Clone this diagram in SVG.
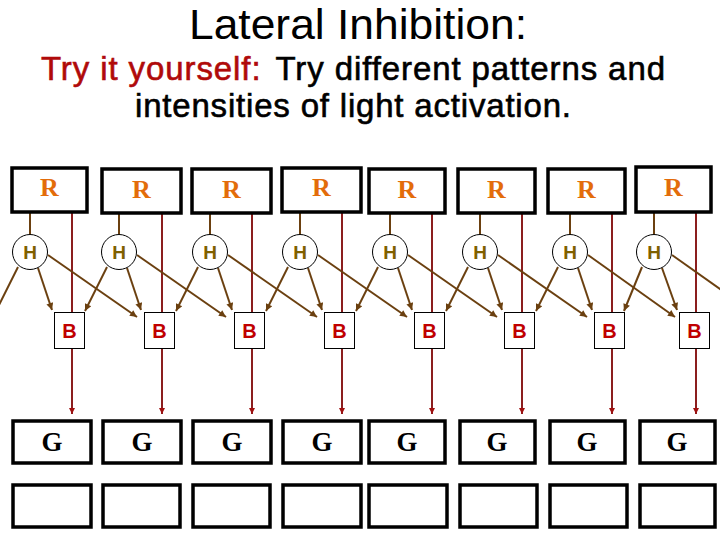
<svg xmlns="http://www.w3.org/2000/svg" width="720" height="540" viewBox="0 0 720 540">
<style>
.title{font-family:"Liberation Sans",Arial,sans-serif;font-size:42px;fill:#000;text-anchor:middle}
.sub{font-family:"Liberation Sans",Arial,sans-serif;font-size:33px;fill:#000;stroke:#000;stroke-width:0.6;text-anchor:middle}
.red{fill:#B00A0A;stroke:#B00A0A}
.rbox{fill:#fff;stroke:#000;stroke-width:3.5}
.gbox{fill:#fff;stroke:#000;stroke-width:3.5}
.bbox{fill:#fff;stroke:#000;stroke-width:1}
.hc{fill:#fff;stroke:#000;stroke-width:1}
.rt{font-family:"Liberation Serif","Times New Roman",serif;font-size:26px;font-weight:bold;fill:#E36C0A;text-anchor:middle}
.gt{font-family:"Liberation Serif","Times New Roman",serif;font-size:27px;font-weight:bold;fill:#000;text-anchor:middle}
.ht{font-family:"Liberation Sans",Arial,sans-serif;font-size:19px;font-weight:bold;fill:#7F6000;text-anchor:middle}
.bt{font-family:"Liberation Sans",Arial,sans-serif;font-size:20px;font-weight:bold;fill:#C00000;text-anchor:middle}
.br{stroke:#6B4010;stroke-width:2;fill:none}
.bra{stroke:#6B4010;stroke-width:2;fill:none;marker-end:url(#ab)}
.rl{stroke:#8B1E1E;stroke-width:2;fill:none;marker-end:url(#ar)}
</style>
<defs>
<marker id="ab" viewBox="0 0 10 10" refX="10" refY="5" markerWidth="9" markerHeight="7" markerUnits="userSpaceOnUse" orient="auto"><path d="M0,0 L10,5 L0,10 z" fill="#6B4010"/></marker>
<marker id="ar" viewBox="0 0 10 10" refX="10" refY="5" markerWidth="7" markerHeight="6" markerUnits="userSpaceOnUse" orient="auto"><path d="M0,0 L10,5 L0,10 z" fill="#A01010"/></marker>
</defs>
<rect width="720" height="540" fill="#fff"/>
<g id="title">
<text class="title" x="358" y="39" textLength="338" lengthAdjust="spacingAndGlyphs">Lateral Inhibition:</text>
<text class="sub" x="353" y="80" textLength="624" lengthAdjust="spacing"><tspan class="red">Try it yourself:</tspan><tspan dx="14">Try different patterns and</tspan></text>
<text class="sub" x="353" y="117" textLength="436" lengthAdjust="spacing">intensities of light activation.</text>
</g>
<g id="connectors">
<path class="br" d="M30,212V234M119,212V234M210,212V234M300,212V234M390,212V234M480,212V234M570,212V234M654,212V234"/>
<line class="rl" x1="72" y1="212" x2="72" y2="414"/>
<line class="rl" x1="162" y1="212" x2="162" y2="414"/>
<line class="rl" x1="252" y1="212" x2="252" y2="414"/>
<line class="rl" x1="342" y1="212" x2="342" y2="414"/>
<line class="rl" x1="432" y1="212" x2="432" y2="414"/>
<line class="rl" x1="522" y1="212" x2="522" y2="414"/>
<line class="rl" x1="612" y1="212" x2="612" y2="414"/>
<line class="rl" x1="696" y1="212" x2="696" y2="414"/>
<line class="br" x1="18" y1="267" x2="-5" y2="313"/>
<line class="bra" x1="38" y1="268" x2="52" y2="310"/>
<line class="bra" x1="48" y1="255" x2="137" y2="317"/>
<line class="bra" x1="107" y1="267" x2="85" y2="311"/>
<line class="bra" x1="127" y1="268" x2="141" y2="310"/>
<line class="bra" x1="137" y1="255" x2="226" y2="317"/>
<line class="bra" x1="198" y1="267" x2="176" y2="311"/>
<line class="bra" x1="218" y1="268" x2="232" y2="310"/>
<line class="bra" x1="228" y1="255" x2="317" y2="317"/>
<line class="bra" x1="288" y1="267" x2="266" y2="311"/>
<line class="bra" x1="308" y1="268" x2="322" y2="310"/>
<line class="bra" x1="318" y1="255" x2="407" y2="317"/>
<line class="bra" x1="378" y1="267" x2="356" y2="311"/>
<line class="bra" x1="398" y1="268" x2="412" y2="310"/>
<line class="bra" x1="408" y1="255" x2="497" y2="317"/>
<line class="bra" x1="468" y1="267" x2="446" y2="311"/>
<line class="bra" x1="488" y1="268" x2="502" y2="310"/>
<line class="bra" x1="498" y1="255" x2="587" y2="317"/>
<line class="bra" x1="558" y1="267" x2="536" y2="311"/>
<line class="bra" x1="578" y1="268" x2="592" y2="310"/>
<line class="bra" x1="588" y1="255" x2="675" y2="317"/>
<line class="bra" x1="642" y1="267" x2="624" y2="311"/>
<line class="bra" x1="662" y1="268" x2="677" y2="310"/>
<line class="br" x1="672" y1="255" x2="730" y2="296"/>
</g>
<g id="R1"><rect class="rbox" x="12" y="168" width="75" height="44"/><text class="rt" x="49.5" y="196">R</text></g>
<g id="R2"><rect class="rbox" x="102" y="169" width="79" height="44"/><text class="rt" x="141.5" y="198">R</text></g>
<g id="R3"><rect class="rbox" x="192" y="169" width="79" height="44"/><text class="rt" x="231.5" y="198">R</text></g>
<g id="R4"><rect class="rbox" x="282" y="168" width="79" height="44"/><text class="rt" x="321.5" y="196">R</text></g>
<g id="R5"><rect class="rbox" x="369" y="169" width="76" height="44"/><text class="rt" x="407" y="198">R</text></g>
<g id="R6"><rect class="rbox" x="458" y="169" width="77" height="44"/><text class="rt" x="496.5" y="198">R</text></g>
<g id="R7"><rect class="rbox" x="548" y="169" width="77" height="44"/><text class="rt" x="586.5" y="198">R</text></g>
<g id="R8"><rect class="rbox" x="636" y="167" width="75" height="45"/><text class="rt" x="673.5" y="196">R</text></g>
<g id="H1"><circle class="hc" cx="30" cy="252" r="17.5"/><text class="ht" x="30" y="259">H</text></g>
<g id="H2"><circle class="hc" cx="119" cy="252" r="17.5"/><text class="ht" x="119" y="259">H</text></g>
<g id="H3"><circle class="hc" cx="210" cy="252" r="17.5"/><text class="ht" x="210" y="259">H</text></g>
<g id="H4"><circle class="hc" cx="300" cy="252" r="17.5"/><text class="ht" x="300" y="259">H</text></g>
<g id="H5"><circle class="hc" cx="390" cy="252" r="17.5"/><text class="ht" x="390" y="259">H</text></g>
<g id="H6"><circle class="hc" cx="480" cy="252" r="17.5"/><text class="ht" x="480" y="259">H</text></g>
<g id="H7"><circle class="hc" cx="570" cy="252" r="17.5"/><text class="ht" x="570" y="259">H</text></g>
<g id="H8"><circle class="hc" cx="654" cy="252" r="17.5"/><text class="ht" x="654" y="259">H</text></g>
<g id="B1"><rect class="bbox" x="54.5" y="312.5" width="30" height="36"/><text class="bt" x="69.5" y="338">B</text></g>
<g id="B2"><rect class="bbox" x="144.5" y="312.5" width="30" height="36"/><text class="bt" x="159.5" y="338">B</text></g>
<g id="B3"><rect class="bbox" x="234.5" y="312.5" width="30" height="36"/><text class="bt" x="249.5" y="338">B</text></g>
<g id="B4"><rect class="bbox" x="324.5" y="312.5" width="30" height="36"/><text class="bt" x="339.5" y="338">B</text></g>
<g id="B5"><rect class="bbox" x="414.5" y="312.5" width="30" height="36"/><text class="bt" x="429.5" y="338">B</text></g>
<g id="B6"><rect class="bbox" x="504.5" y="312.5" width="30" height="36"/><text class="bt" x="519.5" y="338">B</text></g>
<g id="B7"><rect class="bbox" x="594.5" y="312.5" width="30" height="36"/><text class="bt" x="609.5" y="338">B</text></g>
<g id="B8"><rect class="bbox" x="679.5" y="312.5" width="30" height="36"/><text class="bt" x="694.5" y="338">B</text></g>
<g id="G1"><rect class="gbox" x="13" y="421" width="78" height="42"/><text class="gt" x="52" y="451">G</text></g>
<g id="G2"><rect class="gbox" x="103" y="421" width="78" height="42"/><text class="gt" x="142" y="451">G</text></g>
<g id="G3"><rect class="gbox" x="193" y="421" width="78" height="42"/><text class="gt" x="232" y="451">G</text></g>
<g id="G4"><rect class="gbox" x="283" y="421" width="78" height="42"/><text class="gt" x="322" y="451">G</text></g>
<g id="G5"><rect class="gbox" x="369" y="421" width="76" height="42"/><text class="gt" x="407" y="451">G</text></g>
<g id="G6"><rect class="gbox" x="460" y="421" width="75" height="42"/><text class="gt" x="497" y="451">G</text></g>
<g id="G7"><rect class="gbox" x="550" y="421" width="75" height="42"/><text class="gt" x="587" y="451">G</text></g>
<g id="G8"><rect class="gbox" x="640" y="421" width="75" height="42"/><text class="gt" x="677" y="451">G</text></g>
<g id="E1"><rect class="gbox" x="13" y="485" width="78" height="42"/></g>
<g id="E2"><rect class="gbox" x="103" y="485" width="77" height="42"/></g>
<g id="E3"><rect class="gbox" x="193" y="485" width="77" height="42"/></g>
<g id="E4"><rect class="gbox" x="283" y="485" width="78" height="42"/></g>
<g id="E5"><rect class="gbox" x="369" y="485" width="78" height="42"/></g>
<g id="E6"><rect class="gbox" x="460" y="485" width="77" height="42"/></g>
<g id="E7"><rect class="gbox" x="550" y="485" width="77" height="42"/></g>
<g id="E8"><rect class="gbox" x="640" y="485" width="75" height="42"/></g>
</svg>
